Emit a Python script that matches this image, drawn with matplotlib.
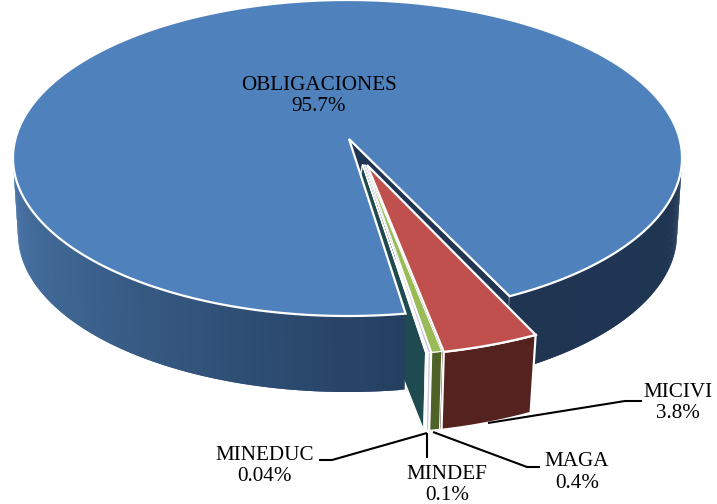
import numpy as np
import matplotlib
matplotlib.use("Agg")
import matplotlib.pyplot as plt
from matplotlib.colors import to_rgb

# ---- data ----
names = ["OBLIGACIONES", "MICIVI", "MAGA", "MINDEF", "MINEDUC"]
values = [95.7, 3.8, 0.4, 0.1, 0.04]
value_labels = ["95.7%", "3.8%", "0.4%", "0.1%", "0.04%"]

# ---- styles ----
top_colors = ["#4F81BD", "#C0504D", "#9BBB59", "#C9BEDC", "#2F7F8C"]
wall_colors = ["#1F3552", "#55231F", "#4F6228", "#CFC6E0", "#1F4A50"]

fig = plt.figure(figsize=(7.17, 5.04), dpi=100)
ax = fig.add_axes([0, 0, 1, 1])
ax.set_xlim(0, 717)
ax.set_ylim(504, 0)
ax.axis("off")

DEPTH = 76
SX = 0.97
K_SMALL = 1.11
T_MAIN_START = 80.0
K_MAIN = 341.0 / (values[0] * 3.6)
WHITE = 1.6
FLANK = 4.0


def arc(cx, cy, rx, ry, t0, t1, n=200):
    t = np.radians(np.linspace(t0, t1, n))
    return cx + rx * np.cos(t), cy + ry * np.sin(t)


def mix(c0, c1, f):
    a, b = np.array(to_rgb(c0)), np.array(to_rgb(c1))
    return tuple(a + (b - a) * f)


def side_strips(cx, cy, rx, ry, t0, t1, c0, c1, n=120, depth=DEPTH, sx=0.985):
    ts = np.linspace(t0, t1, n + 1)
    for i in range(n):
        # each strip overlaps the next so that no seams show
        xa, ya = arc(cx, cy, rx, ry, ts[i], ts[min(i + 2, n)], 5)
        xb = cx + (xa - cx) * sx
        yb = ya + depth
        col = mix(c0, c1, i / (n - 1))
        ax.fill(np.r_[xa, xb[::-1]], np.r_[ya, yb[::-1]], color=col, lw=0, zorder=2 + i * 1e-4)


# main slice geometry
mx, my, ma, mb = 347.5, 158.0, 334.5, 158.0
apx, apy = 349.0, 139.0
t_a = T_MAIN_START
t_b = T_MAIN_START + values[0] * 3.6 * K_MAIN

# inner wall of the main slice seen through the gap
ex, ey = arc(mx, my, ma, mb, t_b, t_b, 1)
ax.fill([apx, ex[0], ex[0], apx],
        [apy, ey[0], ey[0] + DEPTH, apy + DEPTH],
        color=wall_colors[0], ec="white", lw=1.2, zorder=1)

# smaller slices
slices = [
    (1, 367.0, 165.0),
    (2, 365.0, 164.5),
    (3, 364.0, 164.5),
    (4, 362.5, 164.5),
]
rx, ry = 369.0, 191.0
t = 62.8
geom = []
for idx, ax0, ay0 in slices:
    t1 = t + values[idx] * 3.6 * K_SMALL
    geom.append((idx, ax0, ay0, t, t1))
    t = t1

# left wall of the smallest slice sits behind the main slice
idx, ax0, ay0, t0, t1 = geom[-1]
qx, qy = arc(ax0, ay0, rx, ry, t1, t1, 1)
ax.fill([ax0, qx[0], ax0 + (qx[0] - ax0) * SX, ax0 - 14],
        [ay0, qy[0], qy[0] + DEPTH + 2, ay0 + DEPTH],
        color=wall_colors[4], ec="white", lw=1.0, zorder=1.5)

# main slice outer wall with gradient
side_strips(mx, my, ma, mb, t_a, 180, "#243F60", "#4A76A8")
side_strips(mx, my, ma, mb, 360, t_b, "#1F3654", "#1F3552")

# main slice top
x, y = arc(mx, my, ma, mb, t_a, t_b, 600)
ax.fill(np.r_[apx, x], np.r_[apy, y], facecolor=top_colors[0], edgecolor="white",
        lw=WHITE, joinstyle="miter", zorder=3)

# small slices, right to left
z = 4
for idx, ax0, ay0, t0, t1 in geom:
    xa, ya = arc(ax0, ay0, rx, ry, t0, t1, 30)
    xb = ax0 + (xa - ax0) * SX
    yb = ya + DEPTH + 2
    lw = WHITE if idx == 1 else 0.8
    # the largest small slice shows a thin sliver of its left flank
    if idx == 1:
        ax.fill([ax0, xa[-1], xb[-1], xb[-1] - FLANK, xa[-1] - FLANK],
                [ay0, ya[-1], yb[-1], yb[-1] - 2, ya[-1] - 1],
                color=wall_colors[idx], ec="white", lw=0.9, zorder=z)
    # front face
    ax.fill(np.r_[xa, xb[::-1]], np.r_[ya, yb[::-1]], color=wall_colors[idx],
            ec="white", lw=lw, zorder=z + 0.2)
    # top
    ax.fill(np.r_[ax0, xa], np.r_[ay0, ya], fc=top_colors[idx], ec="white",
            lw=lw, joinstyle="miter", zorder=z + 0.4)
    z += 1

# leader lines
leaders = {
    1: ([488, 625, 642], [423, 401, 401]),
    2: ([433, 527, 540], [432, 467, 467]),
    3: ([427, 427], [433, 458]),
    4: ([427, 332, 319], [433, 460, 460]),
}
for i, (lx, ly) in leaders.items():
    ax.plot(lx, ly, color="black", lw=1.5, zorder=12, solid_capstyle="butt")

# labels
label_pos = {0: (319, 96), 1: (678, 403), 2: (577, 472.5), 3: (447, 485), 4: (265, 466)}
for i, (lx, ly) in label_pos.items():
    ax.text(lx, ly, f"{names[i]}\n{value_labels[i]}", ha="center", va="center",
            family="Liberation Serif", fontsize=15.2, color="black",
            linespacing=1.2, zorder=13)

fig.savefig("out.png", dpi=100, facecolor="white")
